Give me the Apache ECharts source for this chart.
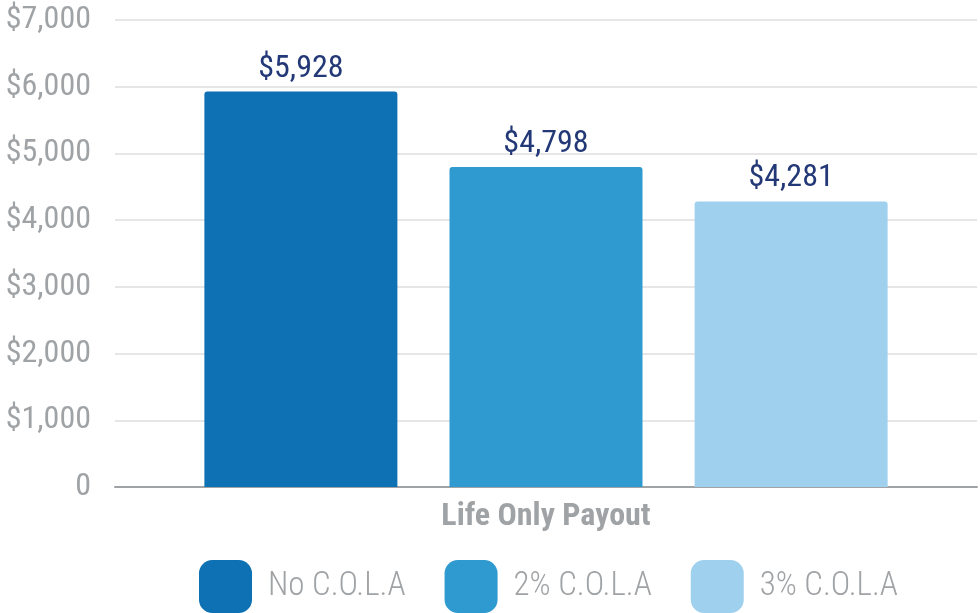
<!DOCTYPE html>
<html><head><meta charset="utf-8">
<script src="https://cdn.jsdelivr.net/npm/echarts@6/dist/echarts.min.js"></script>
<style>html,body{margin:0;padding:0;background:#fff}#c{width:980px;height:613px}</style>
</head><body><div id="c"></div>
<script>
const categories = ['Life Only Payout'];
const seriesNames = ['No C.O.L.A', '2% C.O.L.A', '3% C.O.L.A'];
const seriesValues = [[5928], [4798], [4281]];
const colors = ['#0e71b3', '#2f9ad0', '#9fd0ee'];
const FONT = "'Roboto Condensed', 'Liberation Sans Narrow', 'DejaVu Sans Condensed', sans-serif";
const chart = echarts.init(document.getElementById('c'));
const fmt = v => v === 0 ? '0' : '$' + v.toLocaleString('en-US');
chart.setOption({
  animation: false,
  textStyle: {fontFamily: FONT},
  grid: {left: 115, right: 3, top: 20, bottom: 126},
  legend: {
    top: 560, left: 199, itemWidth: 53, itemHeight: 53, itemGap: 39,
    icon: 'roundRect', padding: 0,
    textStyle: {fontFamily: FONT, fontSize: 33, fontWeight: 300, color: '#a0a3a6', padding: [0, 0, 0, 11]},
    data: seriesNames
  },
  xAxis: {
    type: 'category', data: categories,
    axisLine: {lineStyle: {color: '#a0a3a6', width: 2}},
    axisTick: {show: false},
    axisLabel: {fontFamily: FONT, fontSize: 32, fontWeight: 'bold', color: '#a0a3a6', margin: 14}
  },
  yAxis: {
    type: 'value', min: 0, max: 7000, interval: 1000,
    axisLine: {show: false}, axisTick: {show: false},
    splitLine: {lineStyle: {color: '#e6e6e6', width: 2}},
    axisLabel: {fontFamily: FONT, fontSize: 32, color: '#a0a3a6', margin: 24, formatter: fmt}
  },
  series: seriesNames.map((n, i) => ({
    name: n, type: 'bar', data: seriesValues[i],
    barWidth: 193, barGap: '27%', barCategoryGap: '21%',
    itemStyle: {color: colors[i], borderRadius: [3, 3, 0, 0]},
    label: {show: true, position: 'top', distance: 7, fontFamily: FONT, fontSize: 32, color: '#233876', formatter: p => fmt(p.value)}
  }))
});
</script></body></html>
